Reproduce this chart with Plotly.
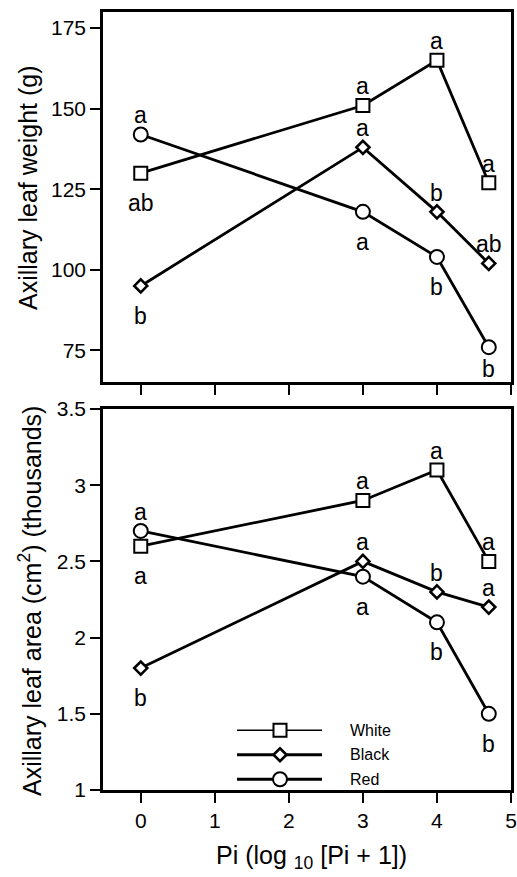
import plotly.graph_objects as go

# ---------------- data ----------------
pi_x = [0, 3, 4, 4.7]
series_names = ["White", "Black", "Red"]

weight_white = [130, 151, 165, 127]
weight_black = [95, 138, 118, 102]
weight_red = [142, 118, 104, 76]

area_white = [2.6, 2.9, 3.1, 2.5]
area_black = [1.8, 2.5, 2.3, 2.2]
area_red = [2.7, 2.4, 2.1, 1.5]

weight_white_letters = ["ab", "a", "a", "a"]
weight_black_letters = ["b", "a", "b", "ab"]
weight_red_letters = ["a", "a", "b", "b"]
weight_white_side = ["below", "above", "above", "above"]
weight_black_side = ["below", "above", "above", "above"]
weight_red_side = ["above", "below", "below", "below"]

area_white_letters = ["a", "a", "a", "a"]
area_black_letters = ["b", "a", "b", "a"]
area_red_letters = ["a", "a", "b", "b"]
area_white_side = ["below", "above", "above", "above"]
area_black_side = ["below", "above", "above", "above"]
area_red_side = ["above", "below", "below", "below"]

weight_range = [65.2, 180]
area_range = [1, 3.5]
weight_ticks = [75, 100, 125, 150, 175]
area_ticks = [1, 1.5, 2, 2.5, 3, 3.5]
area_ticktext = ["1", "1.5", "2", "2.5", "3", "3.5"]
x_ticks = [0, 1, 2, 3, 4, 5]

# ---------------- geometry ----------------
W, H = 517, 877
ML, MR, MT, MB = 103, 6, 12, 87
PW, PH = W - ML - MR, H - MT - MB
TOP_BOTTOM_PX = 382
BOT_TOP_PX = 409

FONT = "Liberation Sans, Arial, Helvetica, sans-serif"
LW = 2.8

styles = {
    "White": dict(symbol="square", size=13, lw=2),
    "Black": dict(symbol="diamond", size=10, lw=2.6),
    "Red": dict(symbol="circle", size=14, lw=2),
}

top_dom = [(H - MB - TOP_BOTTOM_PX) / PH, 1]
bot_dom = [0, (H - MB - BOT_TOP_PX) / PH]

fig = go.Figure()

panels = [
    ("y", weight_range, top_dom, [weight_white, weight_black, weight_red],
     [weight_white_letters, weight_black_letters, weight_red_letters],
     [weight_white_side, weight_black_side, weight_red_side]),
    ("y2", area_range, bot_dom, [area_white, area_black, area_red],
     [area_white_letters, area_black_letters, area_red_letters],
     [area_white_side, area_black_side, area_red_side]),
]

for yref, yr, dom, vals, letters, sides in panels:
    xref = "x" if yref == "y" else "x2"
    panel_h = (dom[1] - dom[0]) * PH
    for name, v, let, sd in zip(series_names, vals, letters, sides):
        st = styles[name]
        fig.add_trace(go.Scatter(
            x=pi_x, y=v, mode="lines+markers", name=name, showlegend=False,
            xaxis=xref, yaxis=yref,
            line=dict(color="black", width=LW),
            marker=dict(symbol=st["symbol"], size=st["size"], color="white",
                        line=dict(color="black", width=st["lw"])),
        ))
        for xi, yi, t, s in zip(pi_x, v, let, sd):
            if s == "above":
                shift = 19
            else:
                dist = (yi - yr[0]) / (yr[1] - yr[0]) * panel_h
                shift = -min(30, dist - 13)
            fig.add_annotation(
                x=xi, y=yi, xref=xref, yref=yref, text=t, showarrow=False,
                yshift=shift,
                font=dict(family=FONT, size=23, color="black"),
            )

# ---------------- legend (overlay axes in pixel units) ----------------
leg_rows = [668, 718, 768]
leg_line_x = [237, 322]
leg_marker_x = 280
leg_text_x = 348
leg_line_w = {"White": 1.3, "Black": LW, "Red": LW}
for name, ry in zip(series_names, leg_rows):
    st = styles[name]
    fig.add_trace(go.Scatter(
        x=leg_line_x, y=[ry, ry], mode="lines", xaxis="x3", yaxis="y3",
        line=dict(color="black", width=leg_line_w[name]), showlegend=False,
        hoverinfo="skip"))
    fig.add_trace(go.Scatter(
        x=[leg_marker_x], y=[ry], mode="markers", xaxis="x3", yaxis="y3",
        marker=dict(symbol=st["symbol"], size=st["size"], color="white",
                    line=dict(color="black", width=st["lw"])),
        showlegend=False, hoverinfo="skip"))
    fig.add_annotation(x=leg_text_x, y=ry, xref="x3", yref="y3", text=name,
                       showarrow=False, xanchor="left", yanchor="middle",
                       font=dict(family=FONT, size=16, color="black"))

axis_common = dict(showline=True, linecolor="black", linewidth=2.5, mirror=True,
                   ticks="outside", tickcolor="black", tickwidth=2, ticklen=10,
                   showgrid=False, zeroline=False, automargin=False,
                   tickfont=dict(family=FONT, size=21, color="black"))

fig.update_layout(
    width=W, height=H,
    margin=dict(l=ML, r=MR, t=MT, b=MB, autoexpand=False),
    paper_bgcolor="white", plot_bgcolor="white",
    showlegend=False,
    xaxis=dict(axis_common, domain=[0, 1], range=[-0.51, 5.0], tickvals=x_ticks,
               showticklabels=False, anchor="y"),
    yaxis=dict(axis_common, domain=top_dom, range=weight_range, tickvals=weight_ticks,
               anchor="x"),
    xaxis2=dict(axis_common, domain=[0, 1], range=[-0.51, 5.0], tickvals=x_ticks,
                anchor="y2"),
    yaxis2=dict(axis_common, domain=bot_dom, range=area_range, tickvals=area_ticks,
                ticktext=area_ticktext, anchor="x2"),
    xaxis3=dict(domain=[0, 1], range=[ML, W - MR], visible=False, overlaying="x2",
                anchor="y3", fixedrange=True, automargin=False),
    yaxis3=dict(domain=[0, 1], range=[H - MB, MT], visible=False, overlaying="y2",
                anchor="x3", fixedrange=True, automargin=False),
)

# axis titles
fig.add_annotation(x=(28 - ML) / PW, y=(H - MB - 188) / PH, xref="paper", yref="paper",
                   xanchor="center", yanchor="middle",
                   text="Axillary leaf weight (g)", textangle=-90, showarrow=False,
                   font=dict(family=FONT, size=25, color="black"))
fig.add_annotation(x=(30 - ML) / PW, y=(H - MB - 601) / PH, xref="paper", yref="paper",
                   xanchor="center", yanchor="middle",
                   text="Axillary leaf area (cm<sup>2</sup>) (thousands)", textangle=-90,
                   showarrow=False, font=dict(family=FONT, size=25, color="black"))
fig.add_annotation(x=(311 - ML) / PW, y=(H - MB - 857) / PH, xref="paper", yref="paper",
                   xanchor="center", yanchor="middle",
                   text="Pi (log <sub>10</sub> [Pi + 1])", showarrow=False,
                   font=dict(family=FONT, size=25, color="black"))

fig.write_html("out.html", config={"displayModeBar": False},
               post_script="document.body.style.margin='0';document.body.style.overflow='hidden';")
